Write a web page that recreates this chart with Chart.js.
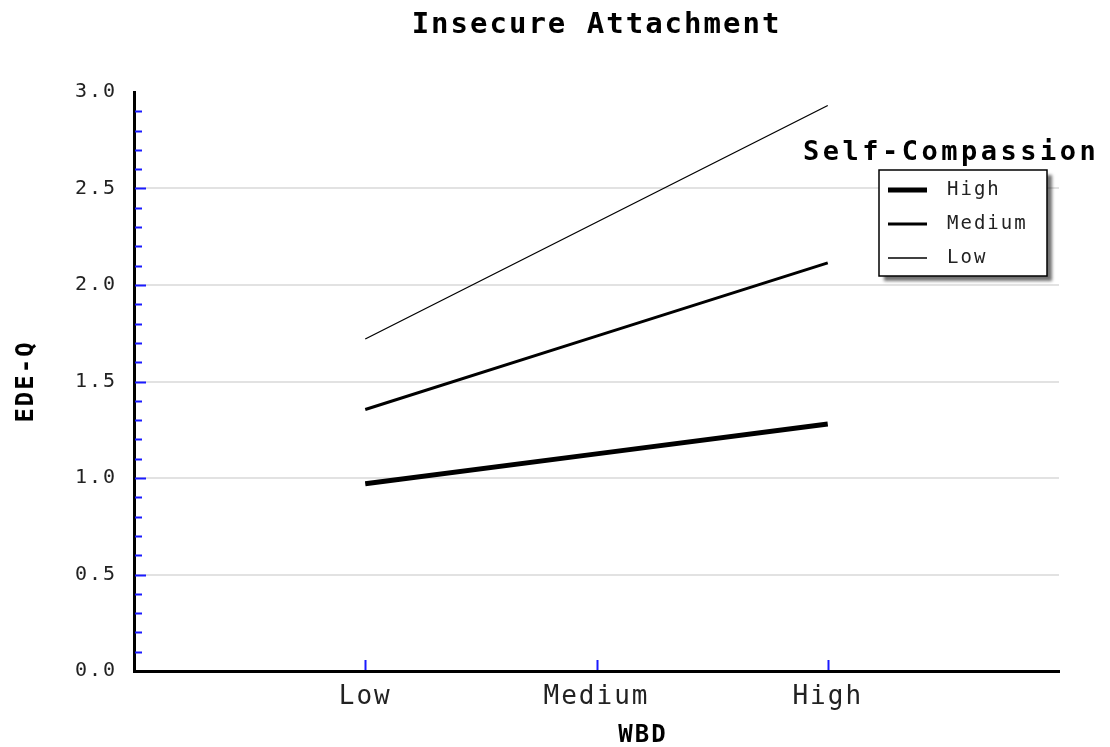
<!DOCTYPE html>
<html>
<head>
<meta charset="utf-8">
<script src="https://cdn.jsdelivr.net/npm/chart.js@4/dist/chart.umd.min.js"></script>
<style>
  html, body { margin: 0; padding: 0; background: #fff; }
  #wrap { width: 1110px; height: 747px; }
</style>
</head>
<body>
<div id="wrap"><canvas id="grafico"></canvas></div>
<script>
// dados
const categorias = ['Low', 'Medium', 'High'];       // WBD
const seriesNomes = ['High', 'Medium', 'Low'];      // Self-Compassion
const valoresHigh = [0.97, 1.125, 1.28];
const valoresMedium = [1.355, 1.735, 2.115];
const valoresLow = [1.72, 2.325, 2.93];
const yTicks = [0.0, 0.5, 1.0, 1.5, 2.0, 2.5, 3.0];

const espessuras = [5, 3, 1.3];
const FONTE = '"DejaVu Sans Mono", "Liberation Mono", monospace';

function pontos(valores) {
  return valores.map((v, i) => ({ x: i + 1, y: v }));
}

// espaçamento entre letras (fonte tipo pixel larga)
const espacamento = {
  id: 'espacamento',
  beforeDraw(chart) { chart.ctx.letterSpacing = '2px'; }
};

// tracinhos azuis para dentro, título do eixo x e legenda com sombra
const extras = {
  id: 'extras',
  afterDraw(chart) {
    const ctx = chart.ctx;
    const y = chart.scales.y, x = chart.scales.x;
    const area = chart.chartArea;
    ctx.save();
    ctx.strokeStyle = '#1a1aff';
    ctx.lineWidth = 2;
    ctx.beginPath();
    for (let i = 1; i < 30; i++) {
      const py = Math.round(y.getPixelForValue(i / 10)) + 0.5;
      const len = i % 5 === 0 ? 12 : 8;
      ctx.moveTo(area.left + 1, py);
      ctx.lineTo(area.left + len, py);
    }
    categorias.forEach((c, i) => {
      const px = Math.round(x.getPixelForValue(i + 1)) + 0.5;
      ctx.moveTo(px, area.bottom - 1);
      ctx.lineTo(px, area.bottom - 11);
    });
    ctx.stroke();

    // título do eixo x (deslocado à direita no original)
    ctx.letterSpacing = '2px';
    ctx.fillStyle = '#000';
    ctx.font = 'bold 24px ' + FONTE;
    ctx.textAlign = 'center';
    ctx.textBaseline = 'middle';
    ctx.fillText('WBD', 643, 736);

    // legenda
    const bx = 879, by = 170, bw = 168, bh = 106;
    ctx.save();
    ctx.shadowColor = 'rgba(0,0,0,0.55)';
    ctx.shadowOffsetX = 5;
    ctx.shadowOffsetY = 5;
    ctx.shadowBlur = 3;
    ctx.fillStyle = '#fff';
    ctx.fillRect(bx, by, bw, bh);
    ctx.restore();
    ctx.strokeStyle = '#000';
    ctx.lineWidth = 1.5;
    ctx.strokeRect(bx, by, bw, bh);

    ctx.letterSpacing = '3.5px';
    ctx.fillStyle = '#000';
    ctx.font = 'bold 27px ' + FONTE;
    ctx.textBaseline = 'middle';
    ctx.textAlign = 'left';
    ctx.fillText('Self-Compassion', 803, 153);

    ctx.letterSpacing = '2px';
    ctx.font = '19px ' + FONTE;
    ctx.fillStyle = '#222';
    chart.data.datasets.forEach((ds, i) => {
      const ly = 190 + i * 34;
      ctx.strokeStyle = '#000';
      ctx.lineWidth = ds.borderWidth;
      ctx.beginPath();
      ctx.moveTo(888, ly);
      ctx.lineTo(927, ly);
      ctx.stroke();
      ctx.fillText(ds.label, 947, ly);
    });
    ctx.restore();
  }
};

const valores = [valoresHigh, valoresMedium, valoresLow];

new Chart(document.getElementById('grafico'), {
  type: 'line',
  data: {
    datasets: seriesNomes.map((nome, i) => ({
      label: nome,
      data: pontos(valores[i]),
      borderColor: '#000',
      borderWidth: espessuras[i],
      borderCapStyle: 'butt',
      pointRadius: 0,
      fill: false
    }))
  },
  options: {
    responsive: true,
    maintainAspectRatio: false,
    animation: false,
    layout: { padding: { left: 0, right: 51, top: 0, bottom: 0 } },
    plugins: {
      legend: { display: false },
      tooltip: { enabled: false },
      title: {
        display: true,
        text: 'Insecure Attachment',
        fullSize: false,
        color: '#000',
        font: { family: FONTE, size: 29, weight: 'bold', lineHeight: 1.2 },
        padding: { top: 8, bottom: 49.2 }
      }
    },
    scales: {
      x: {
        type: 'linear',
        min: 0,
        max: 4,
        afterFit: s => { s.height = 76; },
        afterBuildTicks: s => { s.ticks = categorias.map((c, i) => ({ value: i + 1 })); },
        ticks: {
          autoSkip: false,
          color: '#222',
          padding: 11,
          font: { family: FONTE, size: 26 },
          callback: v => categorias[v - 1] || ''
        },
        grid: { display: false, drawTicks: false },
        border: { display: true, color: '#000', width: 3 },
        title: { display: false }
      },
      y: {
        min: 0,
        max: 3,
        afterFit: s => { s.width = 134; },
        afterBuildTicks: s => { s.ticks = yTicks.map(v => ({ value: v })); },
        ticks: {
          autoSkip: false,
          color: '#222',
          padding: 17,
          font: { family: FONTE, size: 20 },
          callback: v => v.toFixed(1)
        },
        grid: {
          drawTicks: false,
          lineWidth: 2,
          color: c => (c.tick && (c.tick.value === 0 || c.tick.value === 3)) ? 'rgba(0,0,0,0)' : '#e2e2e2'
        },
        border: { display: true, color: '#000', width: 3 },
        title: {
          display: true,
          text: 'EDE-Q',
          color: '#000',
          font: { family: FONTE, size: 24, weight: 'bold', lineHeight: 1 },
          padding: { top: 15, bottom: 0 }
        }
      }
    }
  },
  plugins: [espacamento, extras]
});
</script>
</body>
</html>
